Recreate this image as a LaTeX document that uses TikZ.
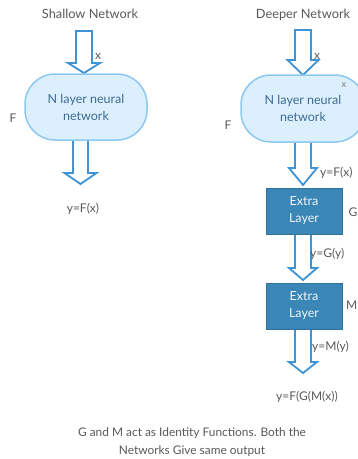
\documentclass[tikz,border=0pt]{standalone}
\usepackage{fontspec}
\setmainfont{Lato}
\definecolor{arrowblue}{HTML}{3D93D3}
\definecolor{termfill}{HTML}{DCEFFD}
\definecolor{termline}{HTML}{8CC8F0}
\definecolor{termtext}{HTML}{3E6B94}
\definecolor{boxfill}{HTML}{3A86B7}
\definecolor{txtgray}{HTML}{595959}
\newcommand\blockarrow[6]{%
  \draw[arrowline] ({#1-#5},#2) -- ({#1+#5},#2) -- ({#1+#5},#3) -- ({#1+#6},#3)
    -- (#1,#4) -- ({#1-#6},#3) -- ({#1-#5},#3) -- cycle;}
\begin{document}
\begin{tikzpicture}[x=1pt,y=-1pt,
  every node/.style={font=\fontsize{12}{17}\selectfont, text=txtgray, inner sep=0pt},
  arrowline/.style={draw=arrowblue, line width=1.8pt, fill=white, line join=miter},
  term/.style={draw=termline, line width=1.5pt, fill=termfill, rounded corners=30pt,
    minimum width=122pt, minimum height=66pt, text=termtext, align=center,
    font=\fontsize{12.5}{17}\selectfont},
  layerbox/.style={fill=boxfill, draw=boxfill!85!black, line width=0.4pt,
    minimum width=76pt, minimum height=46pt, text=white!92!boxfill, align=center,
    font=\fontsize{12.5}{17}\selectfont},
  ttl/.style={font=\fontsize{12.8}{15}\selectfont},
  lbl/.style={anchor=west}]
\useasboundingbox (0,0) rectangle (358,459);
\clip (0,0) rectangle (358,459);
% block arrows
\blockarrow{84}{31}{63}{73}{8}{16}
\blockarrow{80.5}{140}{173}{184}{7.5}{16}
\blockarrow{303}{30}{60}{75}{8}{15.5}
\blockarrow{303}{142}{168}{185}{8}{14}
\blockarrow{303}{234}{268}{280}{8}{14}
\blockarrow{303}{329}{362}{373}{8}{14}
% titles
\node[ttl] (t1) at (90,14) {Shallow Network};
\node[ttl] (t2) at (303,15) {Deeper Network};
% shallow network
\node[term] (n1) at (86,107) {N layer neural\\network};
\node (x1) at (98,56) {x};
\node (f1) at (13,118) {F};
\node (y1) at (83,209) {y=F(x)};
% deeper network
\node[term, minimum width=124pt, minimum height=67pt] (n2) at (303,108.5) {N layer neural\\network};
\node[font=\fontsize{9.5}{11}\selectfont, text=gray] (x3) at (344,85) {x};
\node (x2) at (317,56) {x};
\node (f2) at (228,125) {F};
\node[layerbox] (e1) at (304,211) {Extra\\Layer};
\node[layerbox] (e2) at (304,306) {Extra\\Layer};
\node[lbl] (y2) at (320,173) {y=F(x)};
\node[lbl] (g) at (348.5,212) {G};
\node[lbl] (y3) at (310,254) {y=G(y)};
\node[lbl] (m) at (346,305) {M};
\node[lbl] (y4) at (312,347) {y=M(y)};
\node (y5) at (307,397) {y=F(G(M(x))};
\node[align=center, font=\fontsize{11.9}{18}\selectfont] (cap) at (192,442)
  {G and M act as Identity Functions. Both the\\Networks Give same output};
\end{tikzpicture}
\end{document}
